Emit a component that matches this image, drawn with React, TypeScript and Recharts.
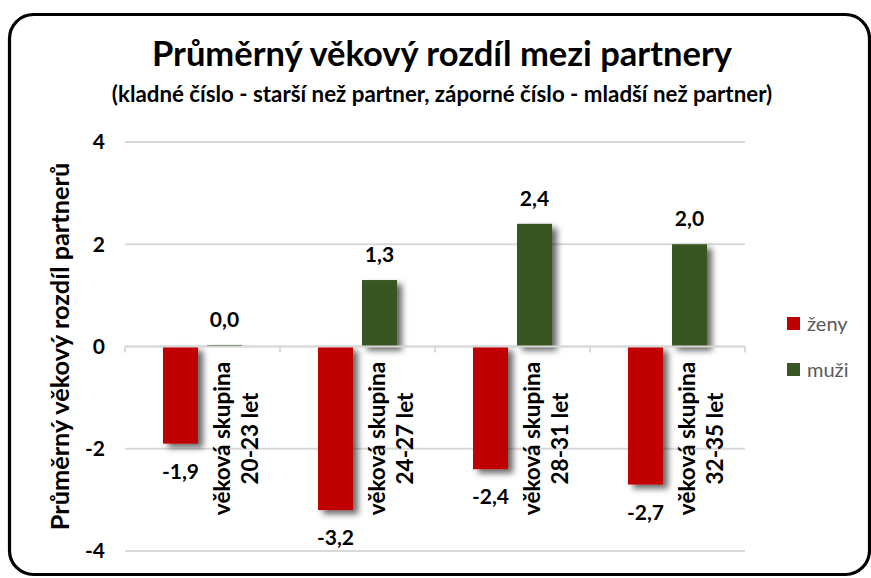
import { BarChart, Bar, XAxis, YAxis, CartesianGrid, ReferenceLine, LabelList } from 'recharts'

const GROUPS = ['20-23 let', '24-27 let', '28-31 let', '32-35 let']
const GROUP_PREFIX = 'věková skupina'
const ZENY = [-1.9, -3.2, -2.4, -2.7]
const MUZI = [0.03, 1.3, 2.4, 2.0]
const Y_TICKS = [-4, -2, 0, 2, 4]
const SERIES = [
  { key: 'zeny', name: 'ženy', color: '#c00000' },
  { key: 'muzi', name: 'muži', color: '#375623' },
]

const TITLE = 'Průměrný věkový rozdíl mezi partnery'
const SUBTITLE = '(kladné číslo - starší než partner, záporné číslo - mladší než partner)'
const Y_LABEL = 'Průměrný věkový rozdíl partnerů'

const FONT = 'Lato, "Open Sans", sans-serif'

const data = GROUPS.map((g, i) => ({ group: g, zeny: ZENY[i], muzi: MUZI[i] }))

const fmt = (v: number) => v.toFixed(1).replace('.', ',')

// obdélník s vrženým stínem (i pro záporné výšky)
function ShadowBar(p: any) {
  const y = Math.min(p.y, p.y + p.height)
  const h = Math.abs(p.height)
  return <rect x={p.x} y={y} width={p.width} height={h} fill={p.fill} filter="url(#barShadow)" />
}

function ValueLabel(p: any) {
  const { x, y, width, height, value } = p
  const top = Math.min(y, y + height)
  const bottom = Math.max(y, y + height)
  const neg = value < 0
  return (
    <text
      x={x + width / 2}
      y={neg ? bottom + 35 : top - 18}
      textAnchor="middle"
      fontFamily={FONT}
      fontWeight={700}
      fontSize={21}
      fill="#000"
    >
      {fmt(value)}
    </text>
  )
}

// popisek kategorie svisle vedle červeného sloupce
function GroupLabel(p: any) {
  const { x, y, width, height, value } = p
  const zero = Math.min(y, y + height)
  const cy = zero + 92
  const x1 = x + width + 23
  const x2 = x + width + 51
  const common = {
    textAnchor: 'middle' as const,
    dominantBaseline: 'central' as const,
    fontFamily: FONT,
    fontWeight: 700,
    fontSize: 22.5,
    fill: '#000',
  }
  return (
    <g>
      <text x={x1} y={cy} transform={`rotate(-90 ${x1} ${cy})`} {...common}>
        {GROUP_PREFIX}
      </text>
      <text x={x2} y={cy} transform={`rotate(-90 ${x2} ${cy})`} {...common}>
        {value}
      </text>
    </g>
  )
}

// nulová osa s čárkami na hranicích kategorií
function ZeroAxis(p: any) {
  const { x1, y1, x2 } = p
  const step = (x2 - x1) / GROUPS.length
  return (
    <g>
      <line x1={x1} y1={y1} x2={x2} y2={y1} stroke="#d9d9d9" strokeWidth={2} />
      {Array.from({ length: GROUPS.length + 1 }, (_, i) => (
        <line key={i} x1={x1 + i * step} y1={y1} x2={x1 + i * step} y2={y1 + 6} stroke="#d9d9d9" strokeWidth={2} />
      ))}
    </g>
  )
}

export default function App() {
  return (
    <div style={{ position: 'absolute', left: 0, top: 0, width: 871, height: 578, background: '#fff', fontFamily: FONT, overflow: 'hidden' }}>
      <svg width={0} height={0} style={{ position: 'absolute' }}>
        <defs>
          <filter id="barShadow" x="-40%" y="-20%" width="220%" height="150%">
            <feDropShadow dx={5} dy={4} stdDeviation={3.4} floodColor="#000" floodOpacity={0.6} />
          </filter>
        </defs>
      </svg>

      <div style={{ position: 'absolute', left: 0, width: 884, top: 31, textAlign: 'center', fontSize: 34.5, fontWeight: 700, color: '#000', lineHeight: '44px' }}>
        {TITLE}
      </div>
      <div style={{ position: 'absolute', left: 0, width: 884, top: 81, textAlign: 'center', fontSize: 22.3, fontWeight: 700, color: '#000', lineHeight: '26px' }}>
        {SUBTITLE}
      </div>

      <div style={{ position: 'absolute', left: 0, top: 0 }}>
        <BarChart width={871} height={578} data={data} margin={{ top: 142, right: 126, bottom: 27, left: 0 }} barSize={35} barGap={9}>
          <CartesianGrid vertical={false} stroke="#d9d9d9" strokeWidth={2} />
          <XAxis dataKey="group" hide />
          <YAxis
            width={125}
            domain={[-4, 4]}
            ticks={Y_TICKS}
            axisLine={false}
            tickLine={false}
            tickSize={0}
            tickMargin={20}
            tick={{ fontFamily: FONT, fontSize: 21, fontWeight: 700, fill: '#000' }}
            label={{
              value: Y_LABEL,
              angle: -90,
              position: 'insideLeft',
              offset: 60,
              style: { textAnchor: 'middle', fontFamily: FONT, fontSize: 25.3, fontWeight: 700, fill: '#000' },
            }}
          />
          <ReferenceLine y={0} shape={<ZeroAxis />} />
          {SERIES.map((s) => (
            <Bar key={s.key} dataKey={s.key} name={s.name} fill={s.color} shape={<ShadowBar />} isAnimationActive={false}>
              <LabelList dataKey={s.key} content={<ValueLabel />} />
              {s.key === 'zeny' && <LabelList dataKey="group" content={<GroupLabel />} />}
            </Bar>
          ))}
        </BarChart>
      </div>

      <div style={{ position: 'absolute', left: 787, top: 311 }}>
        {SERIES.map((s) => (
          <div key={s.key} style={{ display: 'flex', alignItems: 'center', height: 24, marginBottom: 22, color: '#595959', fontSize: 20 }}>
            <span style={{ width: 13, height: 13, background: s.color, marginRight: 7, display: 'inline-block' }} />
            {s.name}
          </div>
        ))}
      </div>

      <svg width={871} height={578} style={{ position: 'absolute', left: 0, top: 0, pointerEvents: 'none' }}>
        <rect x={9.5} y={14.5} width={860} height={560} rx={24} fill="none" stroke="#000" strokeWidth={3.2} />
      </svg>
    </div>
  )
}
